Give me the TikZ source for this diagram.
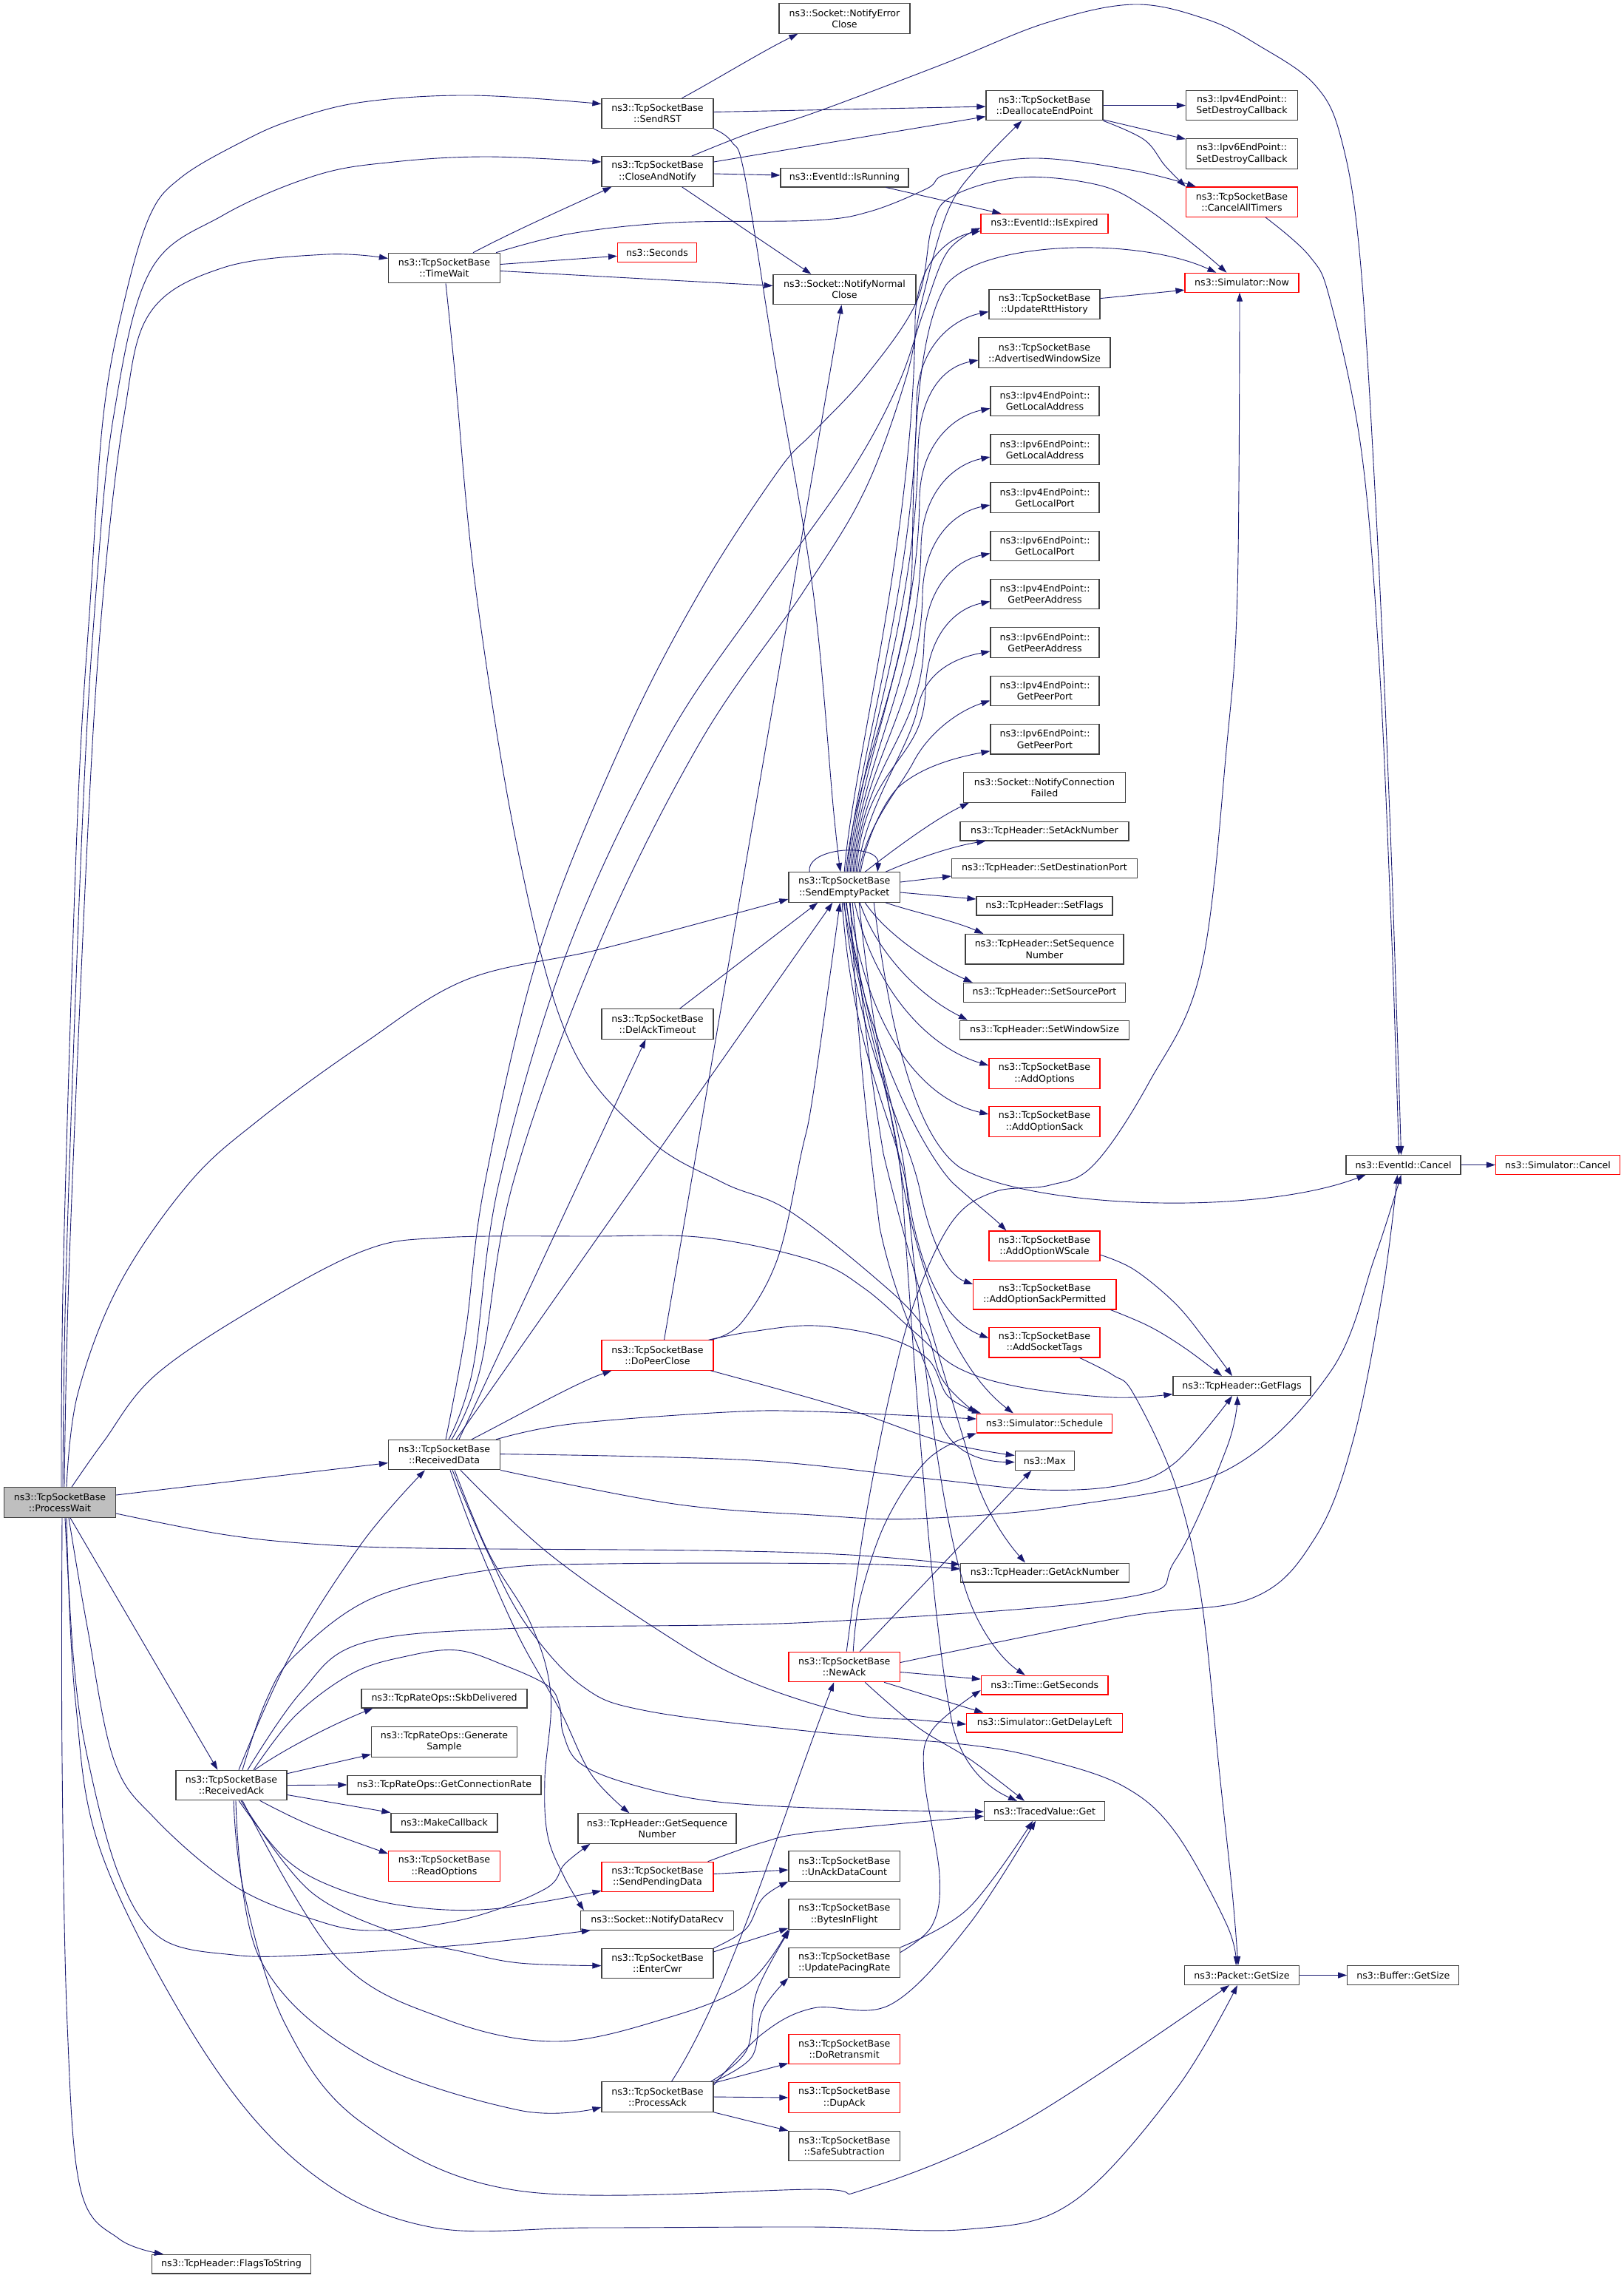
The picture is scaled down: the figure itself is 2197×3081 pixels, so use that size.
\documentclass[tikz,border=0pt]{standalone}
\usepackage{fontspec}
\setmainfont{DejaVu Sans}
\usetikzlibrary{arrows.meta,calc}
\definecolor{edgec}{HTML}{191970}
\definecolor{boxc}{HTML}{404040}
\definecolor{pwfill}{HTML}{BFBFBF}
\definecolor{redc}{HTML}{FF0000}
\tikzset{
 box/.style={draw=boxc, line width=1.2pt, fill=white, inner sep=0pt, align=center, minimum height=40.4pt, font={\fontsize{12.6}{15.2}\selectfont}},
 one/.style={box, minimum height=25.8pt},
 rbox/.style={draw=redc},
 edge/.style={draw=edgec, line width=0.9pt, -{Triangle[length=12pt,width=8pt]}},
}
\newcommand\pedge[1]{\draw[edge] plot[smooth, tension=0.6] coordinates {#1};}
\newcommand\sepup[5]{\draw[edge] ($(SEP.north)+(#1,0)$) .. controls ($(SEP.north)+(#1+12,-150)$) and (#5,{#3+130+0.4*(1050-#3)}) .. (#5+2,#3+130) .. controls (#5+4,#3+58) and (#4-50,#3+20) .. ($(#2.west)+(0,10)$);}
\begin{document}
\begin{tikzpicture}[x=1pt,y=-1pt]
\fill[white] (0,0) rectangle (2197,3081);
\useasboundingbox (0,0) rectangle (2197,3081);
% ---------------- nodes
\node[box, fill=pwfill, minimum width=151pt] (PW) at (81,2032) {ns3::TcpSocketBase\\::ProcessWait};
\node[one, minimum width=215pt] (FTS) at (313,3062) {ns3::TcpHeader::FlagsToString};
\node[box, minimum width=150pt] (RA) at (313,2414.5) {ns3::TcpSocketBase\\::ReceivedAck};
\node[box, minimum width=151pt] (TW) at (601,362.5) {ns3::TcpSocketBase\\::TimeWait};
\node[box, minimum width=151pt] (RD) at (601,1967.6) {ns3::TcpSocketBase\\::ReceivedData};
\node[one, minimum width=224pt] (SkbD) at (601,2297) {ns3::TcpRateOps::SkbDelivered};
\node[box, minimum width=197pt] (GenS) at (601,2356) {ns3::TcpRateOps::Generate\\Sample};
\node[one, minimum width=262pt] (GCR) at (601,2414) {ns3::TcpRateOps::GetConnectionRate};
\node[one, minimum width=144pt] (MkCb) at (601,2465) {ns3::MakeCallback};
\node[box, rbox, minimum width=151pt] (ReadO) at (601,2524) {ns3::TcpSocketBase\\::ReadOptions};
\node[box, minimum width=151pt] (SRST) at (889.5,153.5) {ns3::TcpSocketBase\\::SendRST};
\node[box, minimum width=151pt] (CAN) at (889.5,232) {ns3::TcpSocketBase\\::CloseAndNotify};
\node[one, rbox, minimum width=107pt] (Sec) at (889,341.3) {ns3::Seconds};
\node[box, minimum width=151pt] (DAT) at (889.5,1385) {ns3::TcpSocketBase\\::DelAckTimeout};
\node[box, rbox, minimum width=151pt] (DPC) at (889.5,1833) {ns3::TcpSocketBase\\::DoPeerClose};
\node[box, minimum width=214pt] (GSN) at (889,2473) {ns3::TcpHeader::GetSequence\\Number};
\node[box, rbox, minimum width=151pt] (SPD) at (889.5,2538.5) {ns3::TcpSocketBase\\::SendPendingData};
\node[one, minimum width=207pt] (NDR) at (889,2597.2) {ns3::Socket::NotifyDataRecv};
\node[box, minimum width=151pt] (ECwr) at (889.5,2655.6) {ns3::TcpSocketBase\\::EnterCwr};
\node[box, minimum width=151pt] (PAck) at (889.5,2836) {ns3::TcpSocketBase\\::ProcessAck};
\node[box, minimum width=177pt] (NEC) at (1142.5,25) {ns3::Socket::NotifyError\\Close};
\node[one, minimum width=173pt] (IsR) at (1142.5,240) {ns3::EventId::IsRunning};
\node[box, minimum width=193pt] (NNC) at (1142.5,391.5) {ns3::Socket::NotifyNormal\\Close};
\node[box, minimum width=150.5pt] (SEP) at (1142.2,1200) {ns3::TcpSocketBase\\::SendEmptyPacket};
\node[box, rbox, minimum width=150.5pt] (NA) at (1142.2,2254.5) {ns3::TcpSocketBase\\::NewAck};
\node[box, minimum width=150.5pt] (UADC) at (1142.2,2524) {ns3::TcpSocketBase\\::UnAckDataCount};
\node[box, minimum width=150.5pt] (BIF) at (1142.2,2589) {ns3::TcpSocketBase\\::BytesInFlight};
\node[box, minimum width=150.5pt] (UPR) at (1142.2,2654.5) {ns3::TcpSocketBase\\::UpdatePacingRate};
\node[box, rbox, minimum width=150.5pt] (DoR) at (1142.2,2771.6) {ns3::TcpSocketBase\\::DoRetransmit};
\node[box, rbox, minimum width=150.5pt] (Dup) at (1142.2,2837) {ns3::TcpSocketBase\\::DupAck};
\node[box, minimum width=150.5pt] (Safe) at (1142.2,2902.6) {ns3::TcpSocketBase\\::SafeSubtraction};
\node[box, minimum width=158pt] (Dealloc) at (1413,142.6) {ns3::TcpSocketBase\\::DeallocateEndPoint};
\node[one, rbox, minimum width=172pt] (IsE) at (1413,302.3) {ns3::EventId::IsExpired};
\node[box, minimum width=150pt] (URH) at (1413,411.6) {ns3::TcpSocketBase\\::UpdateRttHistory};
\node[box, minimum width=178pt] (AWS) at (1413,477) {ns3::TcpSocketBase\\::AdvertisedWindowSize};
\node[box, minimum width=147pt] (GLA4) at (1413.5,542.4) {ns3::Ipv4EndPoint::\\GetLocalAddress};
\node[box, minimum width=147pt] (GLA6) at (1413.5,608) {ns3::Ipv6EndPoint::\\GetLocalAddress};
\node[box, minimum width=147pt] (GLP4) at (1413.5,673) {ns3::Ipv4EndPoint::\\GetLocalPort};
\node[box, minimum width=147pt] (GLP6) at (1413.5,738.5) {ns3::Ipv6EndPoint::\\GetLocalPort};
\node[box, minimum width=147pt] (GPA4) at (1413.5,803.5) {ns3::Ipv4EndPoint::\\GetPeerAddress};
\node[box, minimum width=147pt] (GPA6) at (1413.5,869) {ns3::Ipv6EndPoint::\\GetPeerAddress};
\node[box, minimum width=147pt] (GPP4) at (1413.5,934.5) {ns3::Ipv4EndPoint::\\GetPeerPort};
\node[box, minimum width=147pt] (GPP6) at (1413.5,999.8) {ns3::Ipv6EndPoint::\\GetPeerPort};
\node[box, minimum width=219pt] (NCF) at (1413,1065) {ns3::Socket::NotifyConnection\\Failed};
\node[one, minimum width=228pt] (SAN) at (1413,1124) {ns3::TcpHeader::SetAckNumber};
\node[one, minimum width=251pt] (SDP) at (1413,1174.5) {ns3::TcpHeader::SetDestinationPort};
\node[one, minimum width=184pt] (SF) at (1413,1225) {ns3::TcpHeader::SetFlags};
\node[box, minimum width=214pt] (SSN) at (1413,1283.7) {ns3::TcpHeader::SetSequence\\Number};
\node[one, minimum width=219.5pt] (SSP) at (1413,1342.3) {ns3::TcpHeader::SetSourcePort};
\node[one, minimum width=229pt] (SWS) at (1413,1393) {ns3::TcpHeader::SetWindowSize};
\node[box, rbox, minimum width=150pt] (AO) at (1413,1452) {ns3::TcpSocketBase\\::AddOptions};
\node[box, rbox, minimum width=150pt] (AOS) at (1413,1517) {ns3::TcpSocketBase\\::AddOptionSack};
\node[box, rbox, minimum width=150pt] (AOW) at (1413,1685.2) {ns3::TcpSocketBase\\::AddOptionWScale};
\node[box, rbox, minimum width=193.3pt] (AOSP) at (1413.3,1750.8) {ns3::TcpSocketBase\\::AddOptionSackPermitted};
\node[box, rbox, minimum width=150pt] (AST) at (1413,1815.7) {ns3::TcpSocketBase\\::AddSocketTags};
\node[one, rbox, minimum width=183pt] (Sched) at (1413,1925) {ns3::Simulator::Schedule};
\node[one, minimum width=80pt] (Max) at (1413.3,1975.5) {ns3::Max};
\node[one, minimum width=228pt] (GAN) at (1413.5,2127) {ns3::TcpHeader::GetAckNumber};
\node[one, rbox, minimum width=171.6pt] (GSec) at (1413.2,2279) {ns3::Time::GetSeconds};
\node[one, rbox, minimum width=210.6pt] (GDL) at (1413.1,2330) {ns3::Simulator::GetDelayLeft};
\node[one, minimum width=163pt] (TVG) at (1413.1,2449.3) {ns3::TracedValue::Get};
\node[box, minimum width=151pt] (SDC4) at (1680,142.6) {ns3::Ipv4EndPoint::\\SetDestroyCallback};
\node[box, minimum width=151pt] (SDC6) at (1680,208) {ns3::Ipv6EndPoint::\\SetDestroyCallback};
\node[box, rbox, minimum width=151pt] (CAT) at (1680,273.2) {ns3::TcpSocketBase\\::CancelAllTimers};
\node[one, rbox, minimum width=154pt] (Now) at (1680,382.2) {ns3::Simulator::Now};
\node[one, minimum width=186pt] (GF) at (1680,1874.5) {ns3::TcpHeader::GetFlags};
\node[one, minimum width=155.3pt] (PGS) at (1680,2671.5) {ns3::Packet::GetSize};
\node[one, minimum width=155pt] (Cancel) at (1898.5,1575.5) {ns3::EventId::Cancel};
\node[one, minimum width=151pt] (BGS) at (1898.3,2671.5) {ns3::Buffer::GetSize};
\node[one, rbox, minimum width=168pt] (SimC) at (2107.5,1575.5) {ns3::Simulator::Cancel};
% ---------------- edges from ProcessWait
\coordinate (a) at ($(PW.north)+(2,0)$); \coordinate (b) at ($(SRST.west)+(0,-13)$);
\pedge{(a) (86,1700) (105,1100) (123,800) (140,561) (168,408) (203,291) (245,240) (323,194) (393,163) (491,138) (638,129) (b)}
\coordinate (a) at ($(PW.north)+(4,0)$); \coordinate (b) at ($(CAN.west)+(0,-13)$);
\pedge{(a) (90,1700) (112,1100) (130,800) (154,561) (203,367) (302,291) (428,237) (533,219) (659,212) (b)}
\coordinate (a) at ($(PW.north)+(6,0)$); \coordinate (b) at ($(TW.west)+(0,-13)$);
\pedge{(a) (94,1700) (120,1100) (140,800) (168,561) (203,423) (302,362) (442,344) (b)}
\coordinate (a) at ($(PW.north)+(9,0)$); \coordinate (b) at ($(SEP.west)+(0,16)$);
\pedge{(a) (105,1886) (161,1738) (256,1600) (351,1514) (491,1412) (631,1325) (807,1285) (982,1239) (b)}
\coordinate (a) at ($(PW.north)+(16,0)$); \coordinate (b) at ($(GF.west)+(0,11)$);
\pedge{(a) (140,1950) (210,1860) (347,1768) (491,1692) (596,1674) (800,1672) (954,1674) (1100,1705) (1170,1743) (1240,1804) (1296,1850) (1380,1876) (1506,1890) (b)}
\draw[edge] ($(PW.east)+(0,-10)$) -- ($(RD.west)+(0,11)$);
\coordinate (a) at ($(PW.east)+(0,15)$); \coordinate (b) at ($(GAN.west)+(0,-11)$);
\pedge{(a) (300,2075) (421,2088) (575,2094) (950,2097) (1150,2103) (b)}
\draw[edge] ($(PW.south)+(14,0)$) -- ($(RA.north west)+(57,0)$);
\coordinate (a) at ($(PW.south)+(3,0)$); \coordinate (b) at ($(FTS.north west)+(16,0)$);
\pedge{(a) (84,2380) (91,2738) (109,2961) (161,3028) (b)}
\coordinate (a) at ($(PW.south)+(7,0)$); \coordinate (b) at ($(NDR.south west)+(14,0)$);
\pedge{(a) (100,2250) (119,2380) (161,2536) (217,2621) (316,2644) (421,2644) (631,2630) (b)}
\coordinate (a) at ($(PW.south)+(12,0)$); \coordinate (b) at ($(GSN.south west)+(17,0)$);
\pedge{(a) (118,2200) (154,2380) (210,2460) (316,2550) (421,2595) (505,2611) (631,2595) (737,2555) (764,2521) (b)}
\coordinate (a) at ($(PW.south)+(9,0)$); \coordinate (b) at ($(PGS.south)+(-6,0)$);
\pedge{(a) (102,2300) (140,2514) (281,2782) (421,2939) (582,3012) (800,3013) (1100,3012) (1310,3015) (1450,2979) (1590,2827) (b)}
% ---------------- TimeWait
\draw[edge] ($(TW.north)+(39,0)$) .. controls (700,310) and (780,275) .. ($(CAN.south west)+(14,0)$);
\draw[edge] ($(TW.east)+(0,-5)$) -- ($(Sec.west)+(0,5)$);
\draw[edge] ($(TW.east)+(0,4)$) -- ($(NNC.west)+(0,-5)$);
\coordinate (a) at ($(TW.north east)+(-6,0)$); \coordinate (b) at ($(CAT.north west)+(14,0)$);
\pedge{(a) (772,316) (912,301) (1100,298) (1177,286) (1254,255) (1282,235) (1394,214) (1530,230) (b)}
\coordinate (a) at ($(TW.south)+(2,0)$); \coordinate (b) at (Sched.north west);
\pedge{(a) (615,500) (644,800) (702,1157) (772,1412) (877,1540) (979,1600) (1065,1636) (1180,1725) (1248,1793) (1275,1866) (b)}
% ---------------- SendRST, CloseAndNotify
\draw[edge] ($(SRST.north)+(33,0)$) .. controls (965,110) and (1030,70) .. ($(NEC.south west)+(26,0)$);
\draw[edge] ($(SRST.east)+(0,-2)$) -- ($(Dealloc.west)+(0,1.5)$);
\coordinate (a) at (SRST.south east); \coordinate (b) at ($(SEP.north)+(-5,0)$);
\pedge{(a) (990,192) (1008,240) (1050,500) (1100,800) (1128,1100) (b)}
\draw[edge] ($(CAN.east)+(0,-13)$) -- ($(Dealloc.west)+(0,15)$);
\coordinate (a) at ($(CAN.north east)+(-30,0)$); \coordinate (b) at ($(Cancel.north)+(-3,0)$);
\pedge{(a) (1017,179) (1100,153) (1275,87) (1415,31) (1534,6) (1632,26) (1702,61) (1779,115) (1815,190) (1840,350) (1862,700) (1880,1100) (1892,1450) (b)}
\draw[edge] ($(CAN.east)+(0,3)$) -- ($(IsR.west)+(0,-3)$);
\draw[edge] ($(CAN.south)+(33,0)$) -- ($(NNC.north west)+(52,0)$);
\draw[edge] ($(IsR.south)+(56,0)$) -- ($(IsE.north west)+(28,0)$);
% ---------------- Dealloc, CancelAllTimers, misc
\draw[edge] (Dealloc.east) -- (SDC4.west);
\draw[edge] ($(Dealloc.south east)+(0,-1.5)$) -- ($(SDC6.north west)+(0,1)$);
\coordinate (a) at (Dealloc.south east); \coordinate (b) at (CAT.north west);
\pedge{(a) (1548,189) (1576,224) (b)}
\coordinate (a) at ($(CAT.south)+(32,0)$); \coordinate (b) at ($(Cancel.north)+(-6,0)$);
\pedge{(a) (1772,347) (1800,408) (1842,612) (1866,900) (1882,1250) (1889,1450) (b)}
\draw[edge] ($(URH.east)+(0,-8)$) -- ($(Now.west)+(0,10)$);
\draw[edge] (Cancel.east) -- (SimC.west);
\draw[edge] (PGS.east) -- (BGS.west);
\coordinate (a) at ($(AOW.east)+(0,12)$); \coordinate (b) at ($(GF.north)+(-13,0)$);
\pedge{(a) (1534,1717) (1590,1763) (1632,1814) (b)}
\coordinate (a) at ($(AOSP.south east)+(-8,0)$); \coordinate (b) at ($(GF.north)+(-27,0)$);
\pedge{(a) (1555,1794) (1604,1824) (b)}
\coordinate (a) at ($(AST.south east)+(-28,0)$); \coordinate (b) at ($(PGS.north)+(-5,0)$);
\pedge{(a) (1506,1860) (1534,1886) (1590,2008) (1625,2161) (1650,2400) (1667,2559) (b)}
% ---------------- SendEmptyPacket
\draw[edge] ($(SEP.north)+(-47,0)$) .. controls (1090,1145) and (1190,1140) .. ($(SEP.north)+(45,0)$);
\draw[edge] ($(SEP.north)+(2,0)$) .. controls (1160,1030) and (1232,900) .. (1234,760) .. controls (1236,600) and (1240,450) .. (1280,385) .. controls (1330,325) and (1540,320) .. ($(Now.north west)+(43,0)$);
\sepup{0}{IsE}{302.3}{1327}{1236}
\sepup{4}{URH}{411.6}{1338}{1238}
\sepup{6}{AWS}{477}{1324}{1240}
\sepup{8}{GLA4}{542.4}{1340}{1242}
\sepup{10}{GLA6}{608}{1340}{1244}
\sepup{12}{GLP4}{673}{1340}{1246}
\sepup{14}{GLP6}{738.5}{1340}{1248}
\sepup{16}{GPA4}{803.5}{1340}{1250}
\draw[edge] ($(SEP.north)+(18,0)$) .. controls (1170,1090) and (1232,1010) .. (1242,955) .. controls (1252,910) and (1290,890) .. ($(GPA6.west)+(0,12)$);
\draw[edge] ($(SEP.north)+(20,0)$) .. controls (1172,1115) and (1218,1065) .. (1236,1030) .. controls (1256,992) and (1295,962) .. ($(GPP4.west)+(0,13)$);
\draw[edge] ($(SEP.north)+(22,0)$) .. controls (1172,1135) and (1195,1085) .. (1215,1065) .. controls (1245,1038) and (1290,1025) .. ($(GPP6.west)+(0,16)$);
\draw[edge] ($(SEP.north)+(28,0)$) .. controls (1195,1160) and (1260,1110) .. ($(NCF.south west)+(8,0)$);
\draw[edge] ($(SEP.north east)+(-20,0)$) .. controls (1230,1165) and (1285,1145) .. ($(SAN.south west)+(35,0)$);
\draw[edge] ($(SEP.east)+(0,-7)$) -- ($(SDP.south west)+(0,-3)$);
\draw[edge] ($(SEP.east)+(0,7)$) -- ($(SF.west)+(0,-9)$);
\draw[edge] ($(SEP.south east)+(-20,0)$) .. controls (1230,1232) and (1290,1245) .. ($(SSN.north west)+(25,0)$);
\draw[edge] ($(SEP.south)+(28,0)$) .. controls (1200,1265) and (1262,1305) .. ($(SSP.north west)+(13,0)$);
\draw[edge] ($(SEP.south)+(21,0)$) .. controls (1185,1285) and (1240,1345) .. ($(SWS.north west)+(11,0)$);
\draw[edge] ($(SEP.south)+(14,0)$) .. controls (1180,1330) and (1250,1415) .. ($(AO.west)+(0,-11)$);
\draw[edge] ($(SEP.south)+(7,0)$) .. controls (1170,1380) and (1240,1485) .. ($(AOS.west)+(0,-10)$);
\draw[edge] ($(SEP.south)+(3,0)$) .. controls (1165,1400) and (1250,1560) .. (1289,1600) .. controls (1320,1628) and (1345,1648) .. ($(AOW.north west)+(24,0)$);
\draw[edge] (SEP.south) .. controls (1160,1420) and (1228,1530) .. (1245,1612) .. controls (1262,1690) and (1285,1726) .. ($(AOSP.west)+(0,-14)$);
\draw[edge] ($(SEP.south)+(-3,0)$) .. controls (1155,1440) and (1218,1530) .. (1230,1625) .. controls (1248,1735) and (1285,1790) .. ($(AST.west)+(0,-6)$);
\draw[edge] ($(SEP.south)+(20,0)$) .. controls (1180,1400) and (1205,1500) .. (1218,1580) .. controls (1240,1715) and (1290,1850) .. ($(Sched.north west)+(50,0)$);
\draw[edge] ($(SEP.south)+(8,0)$) .. controls (1160,1400) and (1170,1500) .. (1190,1660) .. controls (1215,1780) and (1262,1850) .. (1268,1904) .. controls (1275,1958) and (1320,1977) .. ($(Max.west)+(0,2)$);
\draw[edge] ($(SEP.south)+(11,0)$) .. controls (1170,1400) and (1182,1480) .. (1195,1560) .. controls (1228,1700) and (1290,1900) .. (1314,1981) .. controls (1330,2040) and (1360,2083) .. ($(GAN.north west)+(88,0)$);
\draw[edge] ($(SEP.south)+(2,0)$) .. controls (1175,1400) and (1215,1500) .. (1226,1600) .. controls (1245,1800) and (1270,2050) .. (1310,2161) .. controls (1330,2215) and (1360,2248) .. ($(GSec.north west)+(60,0)$);
\draw[edge] ($(SEP.south)+(-1,0)$) .. controls (1172,1400) and (1212,1500) .. (1220,1600) .. controls (1240,1900) and (1262,2200) .. (1288,2330) .. controls (1302,2392) and (1340,2420) .. ($(TVG.north west)+(45,0)$);
\draw[edge] ($(SEP.south)+(40,0)$) .. controls (1205,1400) and (1240,1540) .. (1300,1580) .. controls (1400,1635) and (1700,1645) .. ($(Cancel.south west)+(27,0)$);
% ---------------- ReceivedData
\coordinate (a) at ($(RD.north)+(2,0)$); \coordinate (b) at ($(Now.north west)+(57,0)$);
\pedge{(a) (630,1800) (656,1600) (730,1285) (842,1004) (947,800) (1052,638) (1100,585) (1170,510) (1240,408) (1261,306) (1289,265) (1380,240) (1485,250) (1548,280) (1620,335) (b)}
\coordinate (a) at ($(RD.north)+(10,0)$); \coordinate (b) at ($(Dealloc.south west)+(49,0)$);
\pedge{(a) (650,1850) (694,1600) (807,1285) (947,1004) (1087,800) (1170,663) (1226,510) (1247,408) (1282,286) (1324,224) (b)}
\coordinate (a) at ($(RD.north)+(6,0)$); \coordinate (b) at ($(IsE.west)+(0,6)$);
\pedge{(a) (640,1850) (675,1600) (768,1285) (900,1004) (1030,810) (1150,640) (1215,520) (1250,420) (1282,340) (b)}
\draw[edge] ($(RD.north)+(20,0)$) -- ($(DAT.south)+(-16,0)$);
\draw[edge] ($(RD.north)+(16,0)$) -- ($(SEP.south west)+(60,0)$);
\draw[edge] ($(RD.north)+(37,0)$) .. controls (700,1915) and (780,1870) .. ($(DPC.south west)+(14,0)$);
\coordinate (a) at ($(RD.north east)+(-6,0)$); \coordinate (b) at ($(Sched.west)+(0,-6)$);
\pedge{(a) (772,1926) (982,1910) (1100,1909) (b)}
\coordinate (a) at ($(RD.east)+(0,-1)$); \coordinate (b) at ($(GF.south)+(-13,0)$);
\pedge{(a) (1017,1975) (1256,2000) (1409,2015) (1520,2008) (1590,1978) (b)}
\coordinate (a) at (RD.south east); \coordinate (b) at ($(Cancel.south)+(-3,0)$);
\pedge{(a) (912,2034) (1100,2049) (1240,2054) (1450,2036) (1660,1988) (1800,1855) (1860,1700) (b)}
\coordinate (a) at ($(RD.south)+(8,0)$); \coordinate (b) at ($(GSN.north west)+(70,0)$);
\pedge{(a) (645,2085) (701,2212) (758,2314) (800,2400) (b)}
\coordinate (a) at ($(RD.south)+(14,0)$); \coordinate (b) at ($(NDR.north west)+(5,0)$);
\pedge{(a) (661,2100) (718,2196) (745,2291) (737,2406) (741,2483) (764,2540) (b)}
\coordinate (a) at ($(RD.south)+(22,0)$); \coordinate (b) at ($(GDL.west)+(0,2)$);
\pedge{(a) (741,2100) (894,2207) (1009,2272) (1150,2318) (1240,2326) (b)}
\coordinate (a) at ($(RD.south)+(11,0)$); \coordinate (b) at ($(PGS.north)+(-8,0)$);
\pedge{(a) (660,2100) (711,2196) (787,2280) (875,2314) (1100,2342) (1310,2360) (1415,2380) (1520,2416) (1590,2478) (1660,2604) (b)}
% ---------------- ReceivedAck
\coordinate (a) at ($(RA.north)+(10,0)$); \coordinate (b) at ($(RD.south west)+(50,0)$);
\pedge{(a) (393,2238) (491,2085) (b)}
\draw[edge] ($(RA.north east)+(-44,0)$) .. controls (385,2365) and (455,2330) .. ($(SkbD.south west)+(16,0)$);
\draw[edge] ($(RA.north east)+(0,5)$) -- ($(GenS.south west)+(0,-4)$);
\draw[edge] (RA.east) -- (GCR.west);
\draw[edge] ($(RA.east)+(0,13)$) -- (MkCb.north west);
\coordinate (a) at ($(RA.south east)+(-37,0)$); \coordinate (b) at ($(ReadO.west)+(0,-17)$);
\pedge{(a) (421,2469) (b)}
\coordinate (a) at ($(RA.north)+(15,0)$); \coordinate (b) at ($(GAN.west)+(0,-5)$);
\pedge{(a) (360,2300) (400,2238) (505,2161) (665,2123) (818,2115) (1150,2115) (b)}
\coordinate (a) at ($(RA.north)+(22,0)$); \coordinate (b) at ($(GF.south)+(-6,0)$);
\pedge{(a) (407,2289) (491,2222) (702,2202) (1100,2194) (1520,2161) (1590,2110) (1660,1957) (b)}
\coordinate (a) at ($(RA.north)+(30,0)$); \coordinate (b) at ($(TVG.west)+(0,1)$);
\pedge{(a) (400,2320) (477,2263) (550,2240) (619,2232) (684,2253) (741,2280) (757,2307) (762,2345) (785,2385) (856,2414) (971,2437) (1150,2447) (b)}
\coordinate (a) at ($(RA.south)+(10,0)$); \coordinate (b) at ($(SPD.south west)+(0,-2)$);
\pedge{(a) (386,2514) (456,2554) (550,2578) (665,2582) (b)}
\coordinate (a) at ($(RA.south)+(13,0)$); \coordinate (b) at ($(ECwr.west)+(0,3)$);
\pedge{(a) (421,2559) (550,2620) (627,2640) (703,2655) (b)}
\coordinate (a) at ($(RA.south)+(15,0)$); \coordinate (b) at (BIF.south west);
\pedge{(a) (456,2648) (600,2730) (751,2761) (900,2730) (1010,2684) (b)}
\coordinate (a) at ($(RA.south)+(6,0)$); \coordinate (b) at ($(PAck.west)+(0,14)$);
\pedge{(a) (351,2648) (491,2782) (702,2854) (b)}
\coordinate (a) at ($(RA.south)+(3,0)$); \coordinate (b) at ($(PGS.south)+(-17,0)$);
\pedge{(a) (330,2559) (386,2738) (491,2872) (702,2963) (1100,2961) (1170,2961) (1380,2872) (b)}
% ---------------- ProcessAck, SendPendingData, EnterCwr, UpdatePacingRate
\draw[edge] ($(PAck.north)+(19,0)$) .. controls (990,2690) and (1060,2450) .. ($(NA.south)+(-14,0)$);
\coordinate (a) at ($(PAck.north east)+(-4,0)$); \coordinate (b) at ($(BIF.south west)+(2,0)$);
\pedge{(a) (1010,2773) (1024,2693) (b)}
\coordinate (a) at (PAck.north east); \coordinate (b) at (UPR.south west);
\pedge{(a) (1017,2782) (1031,2720) (b)}
\coordinate (a) at ($(PAck.east)+(0,-16)$); \coordinate (b) at ($(TVG.south)+(-12,0)$);
\pedge{(a) (1031,2751) (1100,2716) (1205,2711) (1310,2604) (b)}
\draw[edge] ($(PAck.north east)+(0,2)$) -- ($(DoR.west)+(0,19)$);
\draw[edge] (PAck.east) -- (Dup.west);
\draw[edge] (PAck.south east) -- (Safe.north west);
\draw[edge] ($(SPD.east)+(0,-4)$) -- ($(UADC.west)+(0,5)$);
\coordinate (a) at ($(SPD.north east)+(-8,0)$); \coordinate (b) at ($(TVG.west)+(0,7)$);
\pedge{(a) (1031,2492) (1100,2478) (b)}
\coordinate (a) at (ECwr.north east); \coordinate (b) at (UADC.south west);
\pedge{(a) (1009,2609) (1032,2567) (b)}
\draw[edge] ($(ECwr.north east)+(0,5)$) -- ($(BIF.south west)+(0,-2)$);
\coordinate (a) at (UPR.north east); \coordinate (b) at ($(TVG.south)+(-16,0)$);
\pedge{(a) (1310,2581) (b)}
\coordinate (a) at ($(UPR.east)+(0,-14)$); \coordinate (b) at ($(GSec.west)+(0,7)$);
\pedge{(a) (1261,2604) (1271,2536) (1250,2400) (1261,2340) (b)}
% ---------------- DelAckTimeout, DoPeerClose
\draw[edge] ($(DAT.north)+(30,0)$) -- ($(SEP.south west)+(40,0)$);
\draw[edge] ($(DPC.north)+(9,0)$) -- ($(NNC.south)+(-4,0)$);
\coordinate (a) at ($(DPC.north east)+(-4,0)$); \coordinate (b) at ($(SEP.south west)+(70,0)$);
\pedge{(a) (1003,1789) (1052,1702) (1084,1560) (1100,1480) (b)}
\coordinate (a) at ($(DPC.north east)+(-7,0)$); \coordinate (b) at ($(Sched.north west)+(6,0)$);
\pedge{(a) (1017,1801) (1103,1793) (1199,1809) (1256,1839) (1283,1889) (b)}
\coordinate (a) at ($(DPC.south east)+(-4,0)$); \coordinate (b) at ($(Max.west)+(0,-7)$);
\pedge{(a) (1141,1904) (1275,1950) (b)}
% ---------------- NewAck
\coordinate (a) at ($(NA.north)+(3,0)$); \coordinate (b) at ($(Now.south)+(-3,0)$);
\pedge{(a) (1170,2059) (1205,1880) (1240,1753) (1289,1651) (1345,1612) (1420,1603) (1480,1575) (1555,1463) (1625,1310) (1660,1004) (1674,800) (b)}
\coordinate (a) at ($(NA.north)+(12,0)$); \coordinate (b) at (Sched.south west);
\pedge{(a) (1164,2160) (1199,2057) (1256,1973) (b)}
\draw[edge] ($(NA.north)+(21,0)$) -- ($(Max.south)+(-18,0)$);
\coordinate (a) at ($(NA.east)+(0,-6)$); \coordinate (b) at ($(Cancel.south)+(-8,0)$);
\pedge{(a) (1520,2187) (1695,2161) (1779,2080) (1830,1950) (1870,1750) (b)}
\draw[edge] ($(NA.east)+(0,7)$) -- ($(GSec.west)+(0,-8)$);
\draw[edge] ($(NA.south east)+(-22,0)$) -- ($(GDL.north west)+(23,0)$);
\coordinate (a) at ($(NA.south)+(28,0)$); \coordinate (b) at ($(TVG.north west)+(55,0)$);
\pedge{(a) (1240,2335) (1313,2380) (b)}
\end{tikzpicture}
\end{document}
